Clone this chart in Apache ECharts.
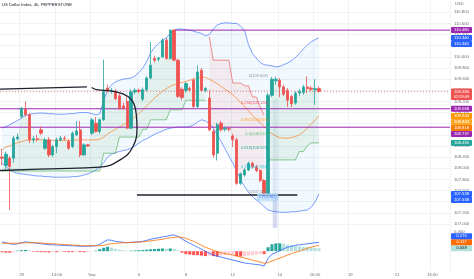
<!DOCTYPE html>
<html>
<head>
<meta charset="utf-8">
<script src="https://cdn.jsdelivr.net/npm/echarts@6/dist/echarts.min.js"></script>
<style>
html,body{margin:0;padding:0;background:#ffffff;}
#chart{width:474px;height:279px;}
</style>
</head>
<body>
<div id="chart"></div>
<script>
// ---------------- DATA ----------------
const tickIdx  = [5, 14, 23, 35, 47, 59, 71, 80, 89, 101, 110];
const tickText = ['29', '14:00', 'Sep', '6', '8', '12', '14', '16:00', '19', '21', '16:00'];

const opens = [108.20,108.05,108.18,108.18,108.53,108.93,109.06,108.96,108.51,108.53,
108.69,108.36,108.51,108.24,108.39,108.51,108.54,108.48,108.39,108.60,
108.69,108.24,108.42,108.63,108.81,108.66,108.87,109.44,109.39,109.38,
109.30,109.12,109.20,108.72,109.37,109.40,109.24,109.41,109.62,109.97,
109.96,110.00,110.30,109.97,110.48,109.94,109.42,109.40,109.43,109.58,
109.11,109.76,109.40,109.26,108.66,108.27,108.81,108.70,108.71,108.58,
108.51,107.73,107.88,107.97,108.09,108.02,107.96,107.78,107.55,109.31,
109.57,109.58,109.46,109.40,109.29,109.17,109.35,109.36,109.46,109.44,
109.41,109.43];
const highs = [108.35,108.30,108.22,108.58,108.62,109.10,109.20,108.99,108.58,108.60,
108.75,108.55,108.56,108.42,108.55,108.58,108.58,108.52,108.66,108.85,
108.85,108.45,108.44,108.90,108.92,108.90,109.95,109.50,109.44,109.42,
109.34,109.18,109.29,109.42,109.44,109.43,109.45,109.65,110.27,110.02,
110.00,110.33,110.34,110.49,110.49,109.97,109.46,109.55,109.47,109.62,
109.85,109.80,109.46,109.40,108.70,108.82,108.85,108.75,108.74,108.62,
108.55,107.92,108.00,108.12,108.12,108.06,107.98,107.80,109.35,109.64,
109.64,109.62,109.50,109.44,109.32,109.38,109.42,109.50,109.65,109.48,
109.60,109.47];
const lows = [108.05,107.98,107.25,108.10,108.50,108.90,108.93,108.45,108.45,108.48,
108.60,108.33,108.20,108.20,108.27,108.48,108.50,108.33,108.36,108.58,
108.20,108.22,108.38,108.60,108.64,108.62,108.85,109.36,109.34,109.22,
109.05,109.05,108.70,108.70,109.33,109.35,109.20,109.38,109.60,109.90,
109.92,109.98,109.95,109.95,109.92,109.26,109.22,109.36,109.38,109.08,
109.08,109.38,109.37,108.66,108.19,108.14,108.66,108.66,108.66,108.38,
107.70,107.70,107.85,107.95,108.00,107.93,107.75,107.52,107.52,109.28,
109.50,109.28,109.30,109.10,109.10,109.14,109.30,109.32,109.35,109.38,
109.14,109.36];
const closes = [108.18,108.25,108.03,108.54,108.56,109.08,108.96,108.51,108.53,108.52,
108.63,108.51,108.24,108.39,108.51,108.54,108.53,108.36,108.63,108.67,
108.24,108.42,108.40,108.87,108.66,108.87,109.38,109.39,109.40,109.25,
109.08,109.08,108.72,109.37,109.40,109.38,109.41,109.62,109.85,109.94,
109.98,110.30,109.97,110.48,109.94,109.29,109.27,109.52,109.41,109.11,
109.73,109.40,109.43,108.69,108.24,108.78,108.69,108.72,108.70,108.51,
107.73,107.90,107.97,108.09,108.03,107.96,107.78,107.55,109.31,109.60,
109.60,109.46,109.33,109.22,109.16,109.35,109.38,109.46,109.43,109.42,
109.43,109.38];

const bbUpper = [108.72,108.75,108.78,108.82,108.86,108.90,108.95,108.97,108.98,108.99,
108.99,108.99,108.98,108.98,108.97,108.97,108.97,108.98,108.98,108.99,
109.00,109.00,109.00,108.98,108.96,108.98,109.22,109.40,109.50,109.55,
109.58,109.60,109.61,109.62,109.66,109.72,109.80,109.92,110.07,110.17,
110.24,110.30,110.34,110.42,110.48,110.50,110.50,110.49,110.48,110.46,
110.44,110.42,110.38,110.40,110.50,110.57,110.60,110.61,110.61,110.60,
110.60,110.55,110.48,110.22,110.06,109.98,109.90,109.86,109.85,109.84,
109.82,109.83,109.86,109.89,109.93,109.99,110.06,110.14,110.21,110.27,
110.31,110.34];
const bbBasis = [108.33,108.38,108.40,108.43,108.46,108.48,108.50,108.51,108.51,108.51,
108.51,108.50,108.50,108.50,108.50,108.50,108.50,108.50,108.50,108.51,
108.51,108.51,108.51,108.51,108.51,108.52,108.56,108.62,108.66,108.70,
108.74,108.78,108.82,108.86,108.92,108.98,109.05,109.12,109.19,109.26,
109.32,109.38,109.43,109.47,109.50,109.52,109.54,109.56,109.58,109.60,
109.62,109.64,109.63,109.60,109.56,109.52,109.47,109.42,109.37,109.32,
109.25,109.18,109.11,109.03,108.95,108.88,108.82,108.75,108.68,108.62,
108.58,108.55,108.54,108.54,108.55,108.57,108.60,108.65,108.72,108.79,
108.86,108.94];
const bbLower = [108.09,108.03,107.97,107.93,107.91,107.90,107.89,107.88,107.87,107.86,
107.86,107.85,107.85,107.84,107.84,107.84,107.84,107.84,107.85,107.85,
107.86,107.88,107.90,107.93,107.97,108.02,108.10,108.20,108.25,108.28,
108.30,108.32,108.33,108.36,108.40,108.45,108.50,108.53,108.57,108.61,
108.64,108.67,108.70,108.72,108.73,108.74,108.74,108.74,108.75,108.78,
108.83,108.87,108.85,108.80,108.72,108.60,108.48,108.35,108.22,108.09,
107.95,107.79,107.67,107.57,107.49,107.43,107.38,107.31,107.25,107.23,
107.22,107.21,107.21,107.21,107.22,107.22,107.23,107.24,107.25,107.30,
107.39,107.54];

const stUp = [107.95,107.95,107.95,107.95,107.95,107.95,107.95,107.95,107.95,107.95,
107.95,107.95,107.95,107.95,107.95,107.95,107.95,107.95,107.95,107.95,
107.95,107.95,107.95,107.95,107.95,107.95,108.27,108.27,108.27,108.27,
108.56,108.56,108.56,108.56,108.56,108.56,108.70,108.70,108.87,108.87,
108.87,108.87,108.87,109.05,109.05,109.05,109.05,109.22,109.22,109.22,
109.22,109.22,109.22,null,null,null,null,null,null,null,
null,null,null,null,null,null,null,null,108.15,108.15,
108.15,108.15,108.15,108.15,108.15,108.15,108.30,108.30,108.40,108.455,
108.455,108.455];
const stDown = [null,null,null,null,null,null,null,null,null,null,
null,null,null,null,null,null,null,null,null,null,
null,null,null,null,null,null,null,null,null,null,
null,null,null,null,null,null,null,null,null,null,
null,null,null,null,null,null,null,null,null,null,
null,null,null,110.36,109.94,109.94,109.94,109.94,109.94,109.53,
109.53,109.53,109.48,109.48,109.28,109.28,109.10,108.95,null,null,
null,null,null,null,null,null,null,null,null,null,
null,null];

const macdLine = [0.19,0.17,0.15,0.14,0.15,0.17,0.19,0.18,0.17,0.16,
0.15,0.14,0.13,0.13,0.125,0.12,0.115,0.11,0.11,0.105,
0.10,0.10,0.10,0.105,0.11,0.14,0.19,0.23,0.22,0.20,
0.19,0.18,0.17,0.18,0.185,0.19,0.20,0.22,0.24,0.26,
0.27,0.29,0.30,0.32,0.33,0.30,0.25,0.20,0.16,0.12,
0.08,0.04,0.00,-0.04,-0.08,-0.10,-0.12,-0.14,-0.16,-0.18,
-0.20,-0.22,-0.24,-0.25,-0.26,-0.27,-0.28,-0.30,-0.15,-0.06,
-0.03,0.01,0.05,0.08,0.10,0.12,0.13,0.14,0.15,0.16,
0.17,0.175];
const signalLine = [0.16,0.16,0.16,0.16,0.16,0.165,0.17,0.17,0.17,0.17,
0.165,0.16,0.155,0.15,0.145,0.14,0.135,0.13,0.125,0.12,
0.115,0.11,0.11,0.11,0.11,0.11,0.12,0.14,0.15,0.16,
0.165,0.17,0.175,0.175,0.18,0.185,0.19,0.20,0.21,0.22,
0.23,0.24,0.26,0.27,0.28,0.29,0.28,0.26,0.23,0.20,
0.16,0.12,0.08,0.05,0.02,-0.01,-0.03,-0.05,-0.065,-0.08,
-0.10,-0.12,-0.14,-0.16,-0.18,-0.20,-0.22,-0.245,-0.23,-0.20,
-0.17,-0.14,-0.11,-0.08,-0.05,-0.02,0.00,0.03,0.06,0.08,
0.10,0.117];
const macdHist = [-0.02,-0.03,-0.03,-0.02,0.01,0.02,0.025,0.015,-0.01,-0.015,
-0.02,-0.02,-0.025,-0.02,-0.02,-0.015,-0.015,-0.02,-0.02,-0.015,
-0.02,-0.02,-0.015,-0.005,0.01,0.04,0.07,0.09,0.07,0.05,
0.03,0.02,0.01,0.01,0.015,0.02,0.025,0.03,0.04,0.045,
0.05,0.055,0.05,0.055,0.05,0.02,-0.03,-0.06,-0.07,-0.08,
-0.08,-0.09,-0.10,-0.09,-0.10,-0.11,-0.09,-0.08,-0.075,-0.07,
-0.10,-0.11,-0.10,-0.09,-0.08,-0.07,-0.06,-0.06,0.08,0.14,
0.16,0.16,0.15,0.13,0.12,0.11,0.10,0.09,0.08,0.07,
0.065,0.058];

// drawings (bar index, price)
const drawTopLine    = [[-0.5,109.42],[21.7,109.46]];
const drawCurve      = [[22.95,109.45],[24.2,109.41],[28.4,109.38],[32.2,109.29],[34.0,109.10],[34.5,108.75],[33.5,108.39],[30.2,108.15],[25.1,108.02],[12.3,107.99],[-0.5,107.96]];
const drawBottomLine = [[34.5,107.52],[75.5,107.52]];
const hLevels      = [110.48, 109.068, 108.737];
const hLevelStart  = [44.2, -0.5, -0.5];
const fibRatios = ['0','0.236','0.382','0.5','0.618','0.786','1'];
const fibLevels = [109.609,109.120,108.818,108.574,108.329,107.981,107.538];
const fibColors = ['#787b86','#f23645','#ff9800','#4caf50','#089981','#00bcd4','#787b86'];
const eventBar = {from: 69.2, to: 70.4, top: 109.25, mid: 107.48, bottom: 106.93};
const priceTags = [
  {v:110.480,bg:'#9c27b0',fg:'#fff'},
  {v:110.340,bg:'#2962ff',fg:'#fff'},
  {v:110.340,bg:'#2962ff',fg:'#fff'},
  {v:109.380,bg:'#ef5350',fg:'#fff',sub:'02:59:09'},
  {v:109.068,bg:'#9c27b0',fg:'#fff'},
  {v:108.940,bg:'#ff9800',fg:'#fff'},
  {v:108.843,bg:'#ffa726',fg:'#fff'},
  {v:108.818,bg:'#f57c00',fg:'#fff'},
  {v:108.737,bg:'#9c27b0',fg:'#fff'},
  {v:108.455,bg:'#26a69a',fg:'#fff'},
  {v:107.538,bg:'#2962ff',fg:'#fff'},
  {v:107.538,bg:'#2962ff',fg:'#fff'}
];
const macdTags = [
  {v:0.175,bg:'#2962ff',fg:'#fff'},
  {v:0.117,bg:'#ff6d00',fg:'#fff'},
  {v:0.058,bg:'#b2dfdb',fg:'#131722'}
];

// ---------------- CHART ----------------
const FONT = 'Liberation Sans, Arial, sans-serif';
const N = 115;
const slots = Array.from({length: N}, (_, i) => String(i));
const tickMap = {};
tickIdx.forEach((k, j) => { tickMap[k] = tickText[j]; });
const lastClose = closes[closes.length - 1];

const candleData = opens.map((o, i) => [o, closes[i], lows[i], highs[i]]);
const mid = opens.map((o, i) => (o + closes[i]) / 2);
const bbBand = bbUpper.map((u, i) => +(u - bbLower[i]).toFixed(4));
const gBand = stUp.map((s, i) => s == null ? null : +(mid[i] - s).toFixed(4));
const rBase = stDown.map((s, i) => s == null ? null : mid[i]);
const rBand = stDown.map((s, i) => s == null ? null : +(s - mid[i]).toFixed(4));

const histData = macdHist.map((v, i) => {
  const p = i > 0 ? macdHist[i - 1] : v;
  let c;
  if (v >= 0) c = v >= p ? '#26a69a' : '#b2dfdb';
  else c = v <= p ? '#ff5252' : '#ffcdd2';
  return {value: v, itemStyle: {color: c}};
});

const chart = echarts.init(document.getElementById('chart'), null, {renderer: 'canvas'});

const plain = (name, data, color, w, extra) => Object.assign({
  name, type: 'line', data, xAxisIndex: 0, yAxisIndex: 0, symbol: 'none', silent: true,
  lineStyle: {color, width: w}, z: 3
}, extra || {});

const series = [
  {type:'line', data: bbLower, stack:'bb', stackStrategy:'all', symbol:'none', silent:true,
   xAxisIndex:0, yAxisIndex:0, lineStyle:{opacity:0}, z:1},
  {type:'line', data: bbBand, stack:'bb', stackStrategy:'all', symbol:'none', silent:true,
   xAxisIndex:0, yAxisIndex:0, lineStyle:{opacity:0}, areaStyle:{color:'rgba(33,150,243,0.09)'}, z:1},
  {type:'line', data: stUp, stack:'stg', stackStrategy:'all', symbol:'none', silent:true,
   xAxisIndex:0, yAxisIndex:0, lineStyle:{opacity:0}, z:1},
  {type:'line', data: gBand, stack:'stg', stackStrategy:'all', symbol:'none', silent:true,
   xAxisIndex:0, yAxisIndex:0, lineStyle:{opacity:0}, areaStyle:{color:'rgba(76,175,80,0.13)'}, z:1},
  {type:'line', data: rBase, stack:'str', stackStrategy:'all', symbol:'none', silent:true,
   xAxisIndex:0, yAxisIndex:0, lineStyle:{opacity:0}, z:1},
  {type:'line', data: rBand, stack:'str', stackStrategy:'all', symbol:'none', silent:true,
   xAxisIndex:0, yAxisIndex:0, lineStyle:{opacity:0}, areaStyle:{color:'rgba(239,83,80,0.11)'}, z:1},
  // event highlight column
  {type:'line', data: [], xAxisIndex:2, yAxisIndex:0, silent:true, z:2,
   markArea:{silent:true, data:[
     [{coord:[eventBar.from, eventBar.top], itemStyle:{color:'rgba(63,81,181,0.09)'}}, {coord:[eventBar.to, eventBar.mid]}],
     [{coord:[eventBar.from, eventBar.mid], itemStyle:{color:'rgba(63,81,181,0.2)'}}, {coord:[eventBar.to, eventBar.bottom]}]
   ]}},
  plain('bbUpper', bbUpper, 'rgba(41,98,255,0.75)', 0.8),
  plain('bbLower', bbLower, 'rgba(41,98,255,0.75)', 0.8),
  plain('bbBasis', bbBasis, 'rgba(255,109,0,0.75)', 0.8),
  plain('stUp', stUp, 'rgba(76,175,80,0.8)', 0.8),
  plain('stDown', stDown, 'rgba(239,83,80,0.8)', 0.8),
  {type:'candlestick', data: candleData, xAxisIndex:0, yAxisIndex:0, barWidth:'72%', silent:true, z:5,
   itemStyle:{color:'#26a69a', color0:'#ef5350', borderColor:'#26a69a', borderColor0:'#ef5350', borderWidth:0.8}},
  // drawings
  {type:'line', data: drawTopLine, xAxisIndex:2, yAxisIndex:0, symbol:'none', silent:true, z:6,
   lineStyle:{color:'#1e222d', width:1.3}},
  {type:'line', data: drawCurve, xAxisIndex:2, yAxisIndex:0, symbol:'none', silent:true, smooth:0.45, z:6,
   lineStyle:{color:'#1e222d', width:1.3}},
  {type:'line', data: drawBottomLine, xAxisIndex:2, yAxisIndex:0, symbol:'none', silent:true, z:6,
   lineStyle:{color:'#1e222d', width:1.3}},
  {type:'line', data: [[-0.5, lastClose], [114.5, lastClose]], xAxisIndex:2, yAxisIndex:0, symbol:'none', silent:true, z:4,
   lineStyle:{color:'#ef5350', width:0.7, type:[1,2]}},
  // fib labels
  {type:'scatter', xAxisIndex:2, yAxisIndex:0, symbolSize:0, silent:true, z:7,
   data: fibLevels.map((v, i) => ({value:[68, v], label:{color: fibColors[i]}})),
   label:{show:true, position:'left', distance:0, offset:[0,-2.5], fontSize:4, fontFamily:FONT,
     formatter: p => fibRatios[p.dataIndex] + '(' + fibLevels[p.dataIndex].toFixed(3) + ')'}},
  {type:'scatter', xAxisIndex:2, yAxisIndex:0, symbolSize:0, silent:true, z:7,
   data:[[67.9, 107.484]],
   label:{show:true, position:'inside', formatter:'CPI(USD)', fontSize:4, fontFamily:FONT, color:'#2962ff',
     backgroundColor:'rgba(187,222,251,0.9)', borderColor:'#90caf9', borderWidth:0.5, padding:[1,1]}},
  // MACD
  {type:'bar', data: histData, xAxisIndex:1, yAxisIndex:1, barWidth:'78%', silent:true},
  {type:'line', data: macdLine, xAxisIndex:1, yAxisIndex:1, symbol:'none', silent:true, lineStyle:{color:'#2962ff', width:0.8}},
  {type:'line', data: signalLine, xAxisIndex:1, yAxisIndex:1, symbol:'none', silent:true, lineStyle:{color:'#ff6d00', width:0.8}}
];
hLevels.forEach((v, k) => {
  series.push({type:'line', data:[[hLevelStart[k], v], [114.5, v]], xAxisIndex:2, yAxisIndex:0, symbol:'none', silent:true, z:4,
    lineStyle:{color:'#9c27b0', width:1}});
});

const option = {
  animation: false,
  backgroundColor: '#ffffff',
  grid: [
    {left:0, right:24, top:1.16, height:233.94},
    {left:0, right:24, top:221.6, height:49.3}
  ],
  xAxis: [
    {type:'category', gridIndex:0, data: slots, boundaryGap:true,
     axisLine:{show:false}, axisTick:{show:false}, axisLabel:{show:false},
     splitLine:{show:true, interval:(i) => tickMap[i] !== undefined, lineStyle:{color:'#f0f2f6', width:1}}},
    {type:'category', gridIndex:1, data: slots, boundaryGap:true,
     axisLine:{show:false}, axisTick:{show:false},
     axisLabel:{show:true, interval:(i) => tickMap[i] !== undefined, formatter:(v, i) => tickMap[i] || '',
       fontSize:4.2, color:'#6a6d78', fontFamily:FONT, margin:1.5},
     splitLine:{show:true, interval:(i) => tickMap[i] !== undefined, lineStyle:{color:'#f0f2f6', width:1}}},
    {type:'value', gridIndex:0, min:-0.5, max:114.5, show:false}
  ],
  yAxis: [
    {type:'value', gridIndex:0, position:'right', min:106.8, max:111.0, interval:0.2,
     axisLine:{show:false}, axisTick:{show:false},
     splitLine:{show:true, showMinLine:false, showMaxLine:false, lineStyle:{color:'#f0f2f6', width:1}},
     axisLabel:{show:true, margin:4, fontSize:4.2, color:'#6a6d78', fontFamily:FONT,
       formatter: v => (v < 106.99 || v > 110.81) ? '' : v.toFixed(3)}},
    {type:'value', gridIndex:1, position:'right', min:-0.4, max:0.6, interval:0.2,
     axisLine:{show:false}, axisTick:{show:false}, splitLine:{show:false},
     axisLabel:{show:true, margin:4, fontSize:4.2, color:'#6a6d78', fontFamily:FONT,
       formatter: v => Math.abs(v - 0.4) < 1e-6 ? '0.400' : ''}}
  ],
  series: series
};
chart.setOption(option);

// price-scale tags, positioned through the axis scale
function buildTags(tags, axisIndex, dir) {
  const H = 6;
  const items = tags.map(t => {
    const y = chart.convertToPixel({yAxisIndex: axisIndex}, t.v);
    const h = t.sub ? 11.5 : H;
    return Object.assign({}, t, {top: y - H / 2, h});
  });
  if (dir > 0) {
    items.sort((a, b) => a.top - b.top);
    for (let k = 1; k < items.length; k++) {
      const prev = items[k - 1];
      if (items[k].top < prev.top + prev.h) items[k].top = prev.top + prev.h;
    }
  } else {
    items.sort((a, b) => b.top - a.top);
    for (let k = 1; k < items.length; k++) {
      const prev = items[k - 1];
      if (items[k].top + items[k].h > prev.top) items[k].top = prev.top - items[k].h;
    }
  }
  const els = [];
  items.forEach(t => {
    els.push({type:'rect', z:100, shape:{x:451, y:t.top, width:21, height:t.h, r:0.8}, style:{fill:t.bg}});
    els.push({type:'text', z:101, x:461.5, y:t.top + H / 2, style:{text:t.v.toFixed(3), fill:t.fg,
      font:'4.2px ' + FONT, textAlign:'center', textVerticalAlign:'middle'}});
    if (t.sub) els.push({type:'text', z:101, x:461.5, y:t.top + H / 2 + 5, style:{text:t.sub, fill:t.fg,
      font:'4px ' + FONT, textAlign:'center', textVerticalAlign:'middle'}});
  });
  return els;
}
const graphics = [].concat(buildTags(priceTags, 0, 1), buildTags(macdTags, 1, -1));
graphics.push({type:'text', z:101, x:2, y:5, style:{text:'US Dollar Index, 4h, PEPPERSTONE', fill:'#131722',
  font:'4.2px ' + FONT, textAlign:'left', textVerticalAlign:'middle'}});
graphics.push({type:'text', z:101, x:455, y:4, style:{text:'USD', fill:'#6a6d78',
  font:'4.2px ' + FONT, textAlign:'left', textVerticalAlign:'middle'}});
chart.setOption({graphic: graphics});
</script>
</body>
</html>
